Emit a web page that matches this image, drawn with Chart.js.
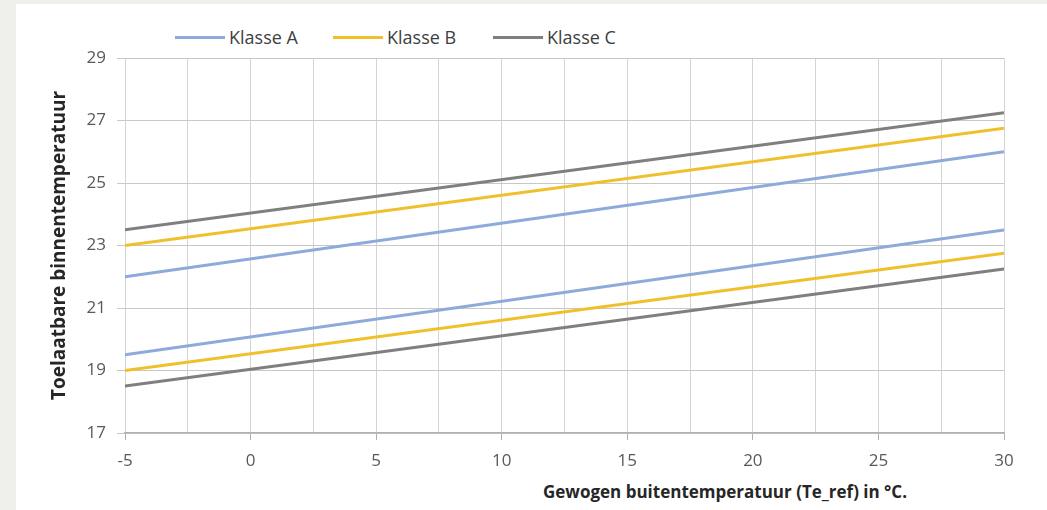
<!DOCTYPE html>
<html>
<head>
<meta charset="utf-8">
<script src="https://cdn.jsdelivr.net/npm/chart.js@4/dist/chart.umd.min.js"></script>
<style>
  html, body { margin: 0; padding: 0; }
  body { width: 1047px; height: 510px; background: #efefeb; position: relative; overflow: hidden; }
  #panel { position: absolute; left: 16px; top: 4px; right: 0; bottom: 0; background: #fff; }
  #wrap { position: absolute; left: 0; top: 0; width: 1047px; height: 510px; }
  #legend { position: absolute; top: 25px; left: 0; font-family: "Open Sans", sans-serif; font-size: 18px; color: #404040; }
  #legend .item { position: absolute; display: flex; align-items: center; white-space: nowrap; }
  #legend .swatch { width: 50px; height: 3px; margin-right: 4px; }
  #xtitle { position: absolute; left: 543px; top: 480px; font-family: "Open Sans", sans-serif; font-weight: bold; font-size: 17px; color: #262626; white-space: nowrap; }
</style>
</head>
<body>
<div id="panel"></div>
<div id="legend"></div>
<div id="xtitle">Gewogen buitentemperatuur (Te_ref) in °C.</div>
<div id="wrap"><canvas id="chart"></canvas></div>
<script>
// data
const tempX = [-5, 30];
const klasseNamen = ['Klasse A', 'Klasse B', 'Klasse C'];
const klasseKleuren = ['#8eaad8', '#f0c02c', '#7f7f7f'];
const klasseABoven = [22, 26];
const klasseAOnder = [19.5, 23.5];
const klasseBBoven = [23, 26.75];
const klasseBOnder = [19, 22.75];
const klasseCBoven = [23.5, 27.25];
const klasseCOnder = [18.5, 22.25];
const yTicks = [17, 19, 21, 23, 25, 27, 29];

const reeksen = [
  [klasseABoven, klasseAOnder],
  [klasseBBoven, klasseBOnder],
  [klasseCBoven, klasseCOnder]
];

const toPts = vals => tempX.map((x, i) => ({ x: x, y: vals[i] }));

const datasets = [];
reeksen.forEach((paar, k) => {
  paar.forEach(vals => {
    datasets.push({
      label: klasseNamen[k],
      data: toPts(vals),
      borderColor: klasseKleuren[k],
      borderWidth: 3,
      pointRadius: 0,
      tension: 0
    });
  });
});

// legenda (posities zoals in het origineel)
const legendX = [175, 333, 493];
const legend = document.getElementById('legend');
klasseNamen.forEach((naam, k) => {
  const item = document.createElement('div');
  item.className = 'item';
  item.style.left = legendX[k] + 'px';
  item.innerHTML = `<span class="swatch" style="background:${klasseKleuren[k]}"></span><span>${naam}</span>`;
  legend.appendChild(item);
});

const tickFont = { family: 'Open Sans', size: 17 };

new Chart(document.getElementById('chart'), {
  type: 'line',
  data: { datasets: datasets },
  options: {
    responsive: true,
    maintainAspectRatio: false,
    animation: false,
    layout: { padding: { left: 40, top: 58, right: 43, bottom: 0 } },
    plugins: { legend: { display: false }, tooltip: { enabled: false } },
    scales: {
      x: {
        type: 'linear',
        min: -5,
        max: 30,
        afterFit: s => { s.height = 77; },
        ticks: {
          stepSize: 2.5,
          autoSkip: false,
          maxRotation: 0,
          padding: 11,
          color: '#595959',
          font: tickFont,
          callback: v => (v % 5 === 0 ? v : '')
        },
        grid: {
          color: '#d4d4d4',
          tickLength: 7,
          tickColor: ctx => (ctx.tick && ctx.tick.value % 5 === 0 ? '#b0b0b0' : 'transparent')
        },
        border: { color: '#b0b0b0', width: 1.5 }
      },
      y: {
        min: 17,
        max: 29,
        afterFit: s => { s.width = 85; },
        afterBuildTicks: s => { s.ticks = yTicks.map(v => ({ value: v })); },
        ticks: { padding: 11, color: '#595959', font: tickFont },
        grid: { color: '#c8c8c8', tickLength: 8 },
        border: { display: false },
        title: {
          display: true,
          text: 'Toelaatbare binnentemperatuur',
          color: '#262626',
          font: { family: 'Open Sans', size: 19, weight: 'bold' },
          padding: { top: 8, bottom: 0 }
        }
      }
    }
  }
});
</script>
</body>
</html>
